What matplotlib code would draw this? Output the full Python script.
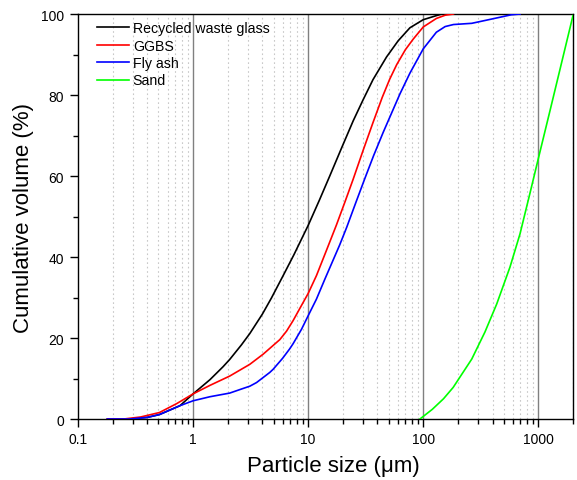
import matplotlib
matplotlib.use("Agg")
import matplotlib.pyplot as plt
from matplotlib.ticker import LogLocator, FixedLocator, NullFormatter, MultipleLocator

plt.rcParams['font.family'] = ['Liberation Sans', 'DejaVu Sans']

glass_x = [0.18, 0.28, 0.4, 0.51, 0.77, 1.0, 1.4, 1.82, 2.08, 2.63, 3.11, 4.0, 4.8, 6.06, 7.5, 10, 12.5, 15.4, 19.5, 24.6, 30, 36.6, 48, 60.6, 76.6, 100, 130, 145]
glass_y = [0, 0, 0.4, 1.1, 3.3, 6.2, 9.7, 12.9, 14.7, 18.3, 21.1, 25.9, 29.9, 35.4, 40.5, 47.8, 54.0, 60.0, 66.9, 73.6, 78.8, 83.8, 89.4, 93.4, 96.6, 98.6, 99.6, 100]

ggbs_x = [0.18, 0.25, 0.35, 0.51, 0.72, 1.0, 1.4, 2.08, 3.11, 4.06, 5.67, 6.49, 7.4, 8.5, 10, 11.8, 14.4, 17.6, 21, 24.6, 30, 36.6, 44, 51.1, 58.8, 70, 81.8, 100, 130, 155, 183]
ggbs_y = [0, 0, 0.5, 1.6, 3.8, 6.2, 8.3, 10.6, 13.5, 16, 19.6, 21.7, 24.3, 27.4, 31.0, 35.4, 41.6, 47.9, 53.8, 59.2, 66.3, 73.2, 79.4, 83.9, 87.5, 91.2, 93.8, 96.8, 98.9, 99.7, 100]

flyash_x = [0.18, 0.28, 0.4, 0.51, 0.77, 1.0, 1.4, 2.08, 2.63, 3.11, 3.56, 4.64, 4.97, 6.0, 6.9, 7.4, 8.77, 10, 11.8, 14, 18.8, 21.6, 26, 31, 37, 44.9, 62.8, 76.6, 100, 130, 155, 183, 264, 344, 464, 580, 695]
flyash_y = [0, 0, 0.4, 1.1, 3.3, 4.5, 5.5, 6.4, 7.4, 8.1, 9.0, 11.5, 12.3, 15.0, 17.3, 18.6, 22.2, 25.5, 29.6, 34.6, 43, 47.3, 53.5, 59.3, 65.0, 70.8, 80.3, 85.4, 91.4, 95.5, 96.9, 97.4, 97.7, 98.4, 99.2, 99.8, 100]

sand_x = [93.6, 120, 150, 182, 264, 344, 435, 567, 693, 847, 1000, 1265, 1545, 2000]
sand_y = [0, 2.4, 5.0, 7.8, 14.8, 21.5, 28.4, 37.5, 45.7, 55.8, 64.3, 76.2, 86.4, 99.6]

labels = ["Recycled waste glass", "GGBS", "Fly ash", "Sand"]
colors = ["#000000", "#ff0000", "#0000ff", "#00ff00"]

fig = plt.figure(figsize=(5.77, 4.81), dpi=100)
ax = fig.add_axes([0.1352, 0.1268, 0.993 - 0.1352, 0.9688 - 0.1268])

ax.set_xscale('log')
ax.set_xlim(0.1, 2000)
ax.set_ylim(0, 100)

ax.xaxis.set_major_locator(FixedLocator([0.1, 1, 10, 100, 1000]))
ax.xaxis.set_minor_locator(LogLocator(base=10, subs=range(2, 10), numticks=20))
ax.xaxis.set_minor_formatter(NullFormatter())
ax.set_xticklabels(["0.1", "1", "10", "100", "1000"])
for v in [1, 10, 100, 1000]:
    ax.axvline(v, color='#808080', lw=1.0, zorder=1)
ax.grid(which='minor', axis='x', color='#c8c8c8', linestyle=(0, (1.5, 2.5)), lw=0.8, zorder=0)

data = [(glass_x, glass_y), (ggbs_x, ggbs_y), (flyash_x, flyash_y), (sand_x, sand_y)]
for (xs, ys), lab, c in zip(data, labels, colors):
    ax.plot(xs, ys, color=c, lw=1.2, label=lab, zorder=3, solid_joinstyle='round')

ax.yaxis.set_major_locator(MultipleLocator(20))
ax.yaxis.set_minor_locator(MultipleLocator(10))

ax.tick_params(which='major', direction='out', length=6, width=1, labelsize=10, top=False, right=False)
ax.tick_params(axis='y', which='major', pad=4)
ax.tick_params(which='minor', direction='out', length=3.5, width=1, top=False, right=False)
for s in ax.spines.values():
    s.set_linewidth(1.0)

ax.set_xlabel("Particle size (\u03bcm)", fontsize=16, labelpad=6)
ax.xaxis.label.set_x(0.515)
ax.set_ylabel("Cumulative volume (%)", fontsize=16, labelpad=5)

leg = ax.legend(loc='upper left', frameon=False, fontsize=10.2, handlelength=2.25,
                handletextpad=0.25, labelspacing=0.24, borderaxespad=0.2,
                bbox_to_anchor=(0.022, 1.003))

fig.savefig("out.png", dpi=100)
